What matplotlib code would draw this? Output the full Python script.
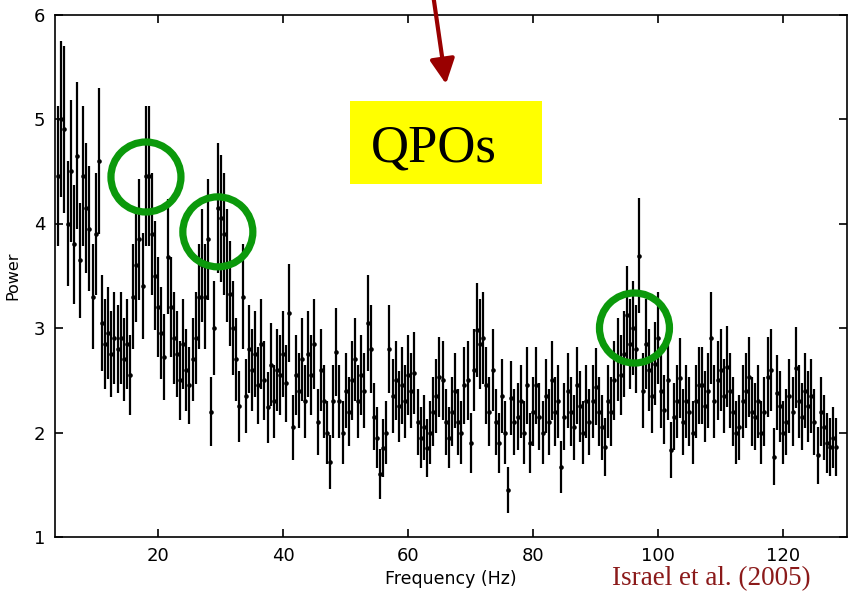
import numpy as np
import matplotlib
matplotlib.use("Agg")
import matplotlib.pyplot as plt
from matplotlib.patches import Ellipse, Rectangle, FancyArrowPatch

# ---------------- data ----------------
F_START, F_STEP = 4.0, 0.5

power = [
    4.45, 5.0, 4.9, 4.0, 4.5, 3.8, 4.65, 3.65, 4.45, 4.15,      # 4.0 - 8.5
    3.95, 3.3, 3.9, 4.6, 3.05, 2.85, 2.95, 2.75, 2.9, 2.8,      # 9.0 - 13.5
    2.9, 2.7, 2.85, 2.55, 3.3, 3.6, 3.85, 3.4, 4.45, 4.45,      # 14.0 - 18.5
    3.9, 3.5, 3.2, 2.95, 2.72, 3.68, 3.2, 2.9, 2.75, 2.5,       # 19.0 - 23.5
    2.85, 2.6, 2.45, 2.7, 2.9, 3.3, 3.6, 3.3, 3.85, 2.2,        # 24.0 - 28.5
    3.0, 4.15, 4.05, 3.9, 3.6, 3.33, 3.0, 2.7, 2.25, 3.3,       # 29.0 - 33.5
    2.35, 2.8, 2.6, 2.75, 2.45, 2.85, 2.5, 2.24, 2.65, 2.3,     # 34.0 - 38.5
    2.6, 2.55, 2.75, 2.47, 3.14, 2.05, 2.55, 2.4, 2.7, 2.3,     # 39.0 - 43.5
    2.75, 2.55, 2.85, 2.1, 2.6, 2.3, 2.0, 1.72, 2.3, 2.77,      # 44.0 - 48.5
    2.3, 2.0, 2.4, 2.2, 2.5, 2.7, 2.3, 2.55, 2.4, 3.05,         # 49.0 - 53.5
    2.8, 2.15, 1.95, 1.6, 1.85, 2.0, 2.8, 2.35, 2.5, 2.25,      # 54.0 - 58.5
    2.45, 2.3, 2.55, 2.4, 2.57, 2.1, 1.95, 2.05, 1.85, 2.0,     # 59.0 - 63.5
    2.2, 2.35, 2.53, 2.5, 2.1, 1.95, 2.2, 2.4, 2.1, 2.0,        # 64.0 - 68.5
    2.45, 2.5, 1.9, 2.6, 2.98, 2.85, 2.9, 2.45, 2.2, 2.6,       # 69.0 - 73.5
    2.1, 1.9, 2.35, 2.0, 1.45, 2.33, 2.1, 2.15, 2.3, 2.0,       # 74.0 - 78.5
    2.45, 1.9, 2.2, 2.45, 2.15, 2.0, 2.35, 2.1, 2.5, 2.2,       # 79.0 - 83.5
    2.3, 1.67, 2.15, 2.4, 2.2, 2.05, 2.45, 2.25, 2.0, 2.3,      # 84.0 - 88.5
    2.1, 2.3, 2.44, 2.2, 2.05, 1.86, 2.3, 2.2, 2.5, 2.7,        # 89.0 - 93.5
    2.55, 2.75, 3.12, 2.85, 3.0, 2.8, 3.69, 2.4, 2.85, 2.6,     # 94.0 - 98.5
    2.35, 2.66, 2.9, 2.4, 2.22, 2.5, 1.83, 2.15, 2.3, 2.52,     # 99.0 - 103.5
    2.1, 2.3, 2.2, 2.0, 2.3, 2.45, 2.45, 2.25, 2.4, 2.9,        # 104.0 - 108.5
    2.3, 2.5, 2.6, 2.35, 2.63, 2.4, 2.2, 2.0, 2.05, 2.3,        # 109.0 - 113.5
    2.4, 2.53, 2.2, 2.15, 2.3, 2.0, 2.2, 2.53, 2.6, 1.77,       # 114.0 - 118.5
    2.38, 2.25, 2.0, 2.1, 2.35, 2.2, 2.62, 2.3, 2.15, 2.4,      # 119.0 - 123.5
    2.25, 2.35, 2.1, 1.78, 2.2, 2.05, 1.9, 1.86, 1.95, 1.86,    # 124.0 - 128.5
]

power_err = [
    0.67, 0.75, 0.80, 0.60, 0.68, 0.57, 0.70, 0.55, 0.67, 0.62,
    0.60, 0.50, 0.58, 0.70, 0.46, 0.43, 0.44, 0.41, 0.44, 0.42,
    0.44, 0.40, 0.43, 0.38, 0.50, 0.54, 0.58, 0.51, 0.67, 0.67,
    0.58, 0.52, 0.48, 0.44, 0.41, 0.55, 0.48, 0.44, 0.41, 0.38,
    0.43, 0.39, 0.37, 0.40, 0.44, 0.50, 0.54, 0.50, 0.58, 0.33,
    0.45, 0.62, 0.61, 0.58, 0.54, 0.50, 0.45, 0.40, 0.34, 0.50,
    0.35, 0.42, 0.39, 0.41, 0.37, 0.43, 0.38, 0.34, 0.40, 0.35,
    0.39, 0.38, 0.41, 0.37, 0.47, 0.31, 0.38, 0.36, 0.40, 0.35,
    0.41, 0.38, 0.43, 0.32, 0.39, 0.35, 0.30, 0.26, 0.35, 0.42,
    0.35, 0.30, 0.36, 0.33, 0.38, 0.40, 0.35, 0.38, 0.36, 0.46,
    0.42, 0.32, 0.29, 0.24, 0.28, 0.30, 0.42, 0.35, 0.38, 0.34,
    0.37, 0.35, 0.38, 0.36, 0.39, 0.32, 0.29, 0.31, 0.28, 0.30,
    0.33, 0.35, 0.38, 0.38, 0.32, 0.29, 0.33, 0.36, 0.32, 0.30,
    0.37, 0.38, 0.29, 0.39, 0.45, 0.43, 0.44, 0.37, 0.33, 0.39,
    0.32, 0.29, 0.35, 0.30, 0.22, 0.35, 0.32, 0.32, 0.35, 0.30,
    0.37, 0.29, 0.33, 0.37, 0.32, 0.30, 0.35, 0.32, 0.38, 0.33,
    0.35, 0.25, 0.32, 0.36, 0.33, 0.31, 0.37, 0.34, 0.30, 0.35,
    0.32, 0.35, 0.37, 0.33, 0.31, 0.28, 0.35, 0.33, 0.38, 0.40,
    0.38, 0.41, 0.47, 0.43, 0.45, 0.42, 0.55, 0.36, 0.43, 0.39,
    0.35, 0.40, 0.44, 0.36, 0.33, 0.38, 0.27, 0.32, 0.35, 0.38,
    0.32, 0.35, 0.33, 0.30, 0.35, 0.37, 0.37, 0.34, 0.36, 0.44,
    0.35, 0.38, 0.39, 0.35, 0.39, 0.36, 0.33, 0.30, 0.31, 0.35,
    0.36, 0.38, 0.33, 0.32, 0.35, 0.30, 0.33, 0.38, 0.39, 0.27,
    0.36, 0.34, 0.30, 0.32, 0.35, 0.33, 0.39, 0.35, 0.32, 0.36,
    0.34, 0.35, 0.32, 0.27, 0.33, 0.31, 0.29, 0.28, 0.29, 0.28,
]

freq = F_START + F_STEP * np.arange(len(power))

x_ticks = [20, 40, 60, 80, 100, 120]
y_ticks = [1, 2, 3, 4, 5, 6]

# QPO annotations (frequency, power) of circled features
qpo_freq = [18.05, 29.55, 96.2]
qpo_pow = [4.445, 3.92, 3.0]

# ---------------- figure ----------------
W, H = 856, 591
fig = plt.figure(figsize=(W / 100, H / 100), dpi=100)
ax = fig.add_axes([55 / W, 1 - 537 / H, (847 - 55) / W, (537 - 14.5) / H])

ax.errorbar(freq, power, yerr=power_err, fmt='o', color='black',
            ms=3.3, elinewidth=1.6, capsize=0, mew=0)

ax.set_xlim(3.5, 130.2)
ax.set_ylim(1, 6)
ax.set_xticks(x_ticks)
ax.set_yticks(y_ticks)
ax.tick_params(direction='in', length=6, width=1.2, top=True, right=True,
               labelsize=13, pad=7, colors='black')
for s in ax.spines.values():
    s.set_linewidth(1.2)
for lab in ax.get_xticklabels() + ax.get_yticklabels():
    lab.set_family('DejaVu Sans')

ax.set_xlabel('Frequency (Hz)', fontsize=12.5, family='DejaVu Sans', labelpad=4)
ax.set_ylabel('Power', fontsize=11.5, family='DejaVu Sans', labelpad=10)

# green circles (display-size ~70 px)
px_per_hz = (847 - 55) / (130.2 - 3.5)
px_per_pow = (537 - 14.5) / 5.0
for fq, pw in zip(qpo_freq, qpo_pow):
    ax.add_patch(Ellipse((fq, pw), 70 / px_per_hz, 70 / px_per_pow,
                         fill=False, edgecolor='#0b990b', linewidth=5.2,
                         clip_on=False, zorder=5))

# yellow box with QPOs
bx0 = 3.5 + (350 - 55) / px_per_hz
bx1 = 3.5 + (542 - 55) / px_per_hz
by0 = 1 + (537 - 184) / px_per_pow
by1 = 1 + (537 - 101) / px_per_pow
ax.add_patch(Rectangle((bx0, by0), bx1 - bx0, by1 - by0, facecolor='#ffff00',
                       edgecolor='none', zorder=6, clip_on=False))
ax.text(3.5 + (371 - 55) / px_per_hz, 1 + (537 - 162) / px_per_pow, 'QPOs',
        family='Liberation Serif', fontsize=38, color='black',
        ha='left', va='baseline', zorder=7)

# dark red arrow from the top
fig.add_artist(FancyArrowPatch(
    (433 / W, 1 + 6 / H), (446 / W, 1 - 84 / H),
    transform=fig.transFigure, arrowstyle='-|>,head_length=6,head_width=3.0',
    color='#990000', linewidth=3, mutation_scale=2.5, shrinkA=0, shrinkB=0))

# citation, kept inside the canvas and clear of the tick labels
fig.text(612 / W, 1 - 585.5 / H, 'Israel et al. (2005)', family='Liberation Serif',
         fontsize=19.5, color='#8b1a1a', ha='left', va='baseline')

fig.savefig('out.png', dpi=100)
